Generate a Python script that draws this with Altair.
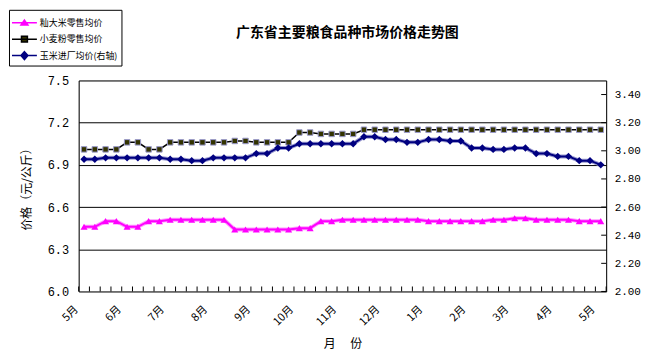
import json
import altair as alt
import pandas as pd

# ---------------- data ----------------
month_labels = ["5月", "6月", "7月", "8月", "9月", "10月", "11月", "12月",
                "1月", "2月", "3月", "4月", "5月"]

series_names = ["籼大米零售均价", "小麦粉零售均价", "玉米进厂均价(右轴)"]

rice = [6.46, 6.46, 6.50, 6.50, 6.46, 6.46, 6.50, 6.50,
        6.51, 6.51, 6.51, 6.51, 6.51, 6.51,
        6.44, 6.44, 6.44, 6.44, 6.44, 6.44,
        6.45, 6.45, 6.50, 6.50,
        6.51, 6.51, 6.51, 6.51, 6.51, 6.51, 6.51, 6.51,
        6.50, 6.50, 6.50, 6.50, 6.50, 6.50,
        6.51, 6.51, 6.52, 6.52,
        6.51, 6.51, 6.51, 6.51,
        6.50, 6.50, 6.50]

wheat = [7.01, 7.01, 7.01, 7.01, 7.06, 7.06, 7.01, 7.01,
         7.06, 7.06, 7.06, 7.06, 7.06, 7.06,
         7.07, 7.07, 7.06, 7.06, 7.06, 7.06,
         7.13, 7.13, 7.12, 7.12, 7.12, 7.12] + [7.15] * 23

corn = [2.94, 2.94, 2.95, 2.95, 2.95, 2.95, 2.95, 2.95,
        2.94, 2.94, 2.93, 2.93, 2.95, 2.95, 2.95, 2.95,
        2.98, 2.98, 3.02, 3.02,
        3.05, 3.05, 3.05, 3.05, 3.05, 3.05,
        3.10, 3.10, 3.08, 3.08, 3.06, 3.06, 3.08, 3.08,
        3.07, 3.07, 3.02, 3.02, 3.01, 3.01, 3.02, 3.02,
        2.98, 2.98, 2.96, 2.96, 2.93, 2.93, 2.90]

left_ticks = [6.0, 6.3, 6.6, 6.9, 7.2, 7.5]
right_ticks = [2.0, 2.2, 2.4, 2.6, 2.8, 3.0, 3.2, 3.4]

n = len(rice)
df = pd.DataFrame({"idx": list(range(n)), "rice": rice, "wheat": wheat, "corn": corn})
bounds_df = pd.DataFrame({"b": list(range(n + 1))})
rticks_df = pd.DataFrame({"v": right_ticks})
legend_df = pd.DataFrame({"series": series_names})

W, H = 530, 212
FONT = "Noto Sans CJK SC"

xscale = alt.Scale(domain=[0, n], nice=False, zero=False)
label_vals = [i + 0.5 for i in range(0, n, 4)]
xaxis = alt.Axis(
    values=label_vals, ticks=False, grid=False, domain=False,
    labelExpr=json.dumps(month_labels, ensure_ascii=False) + "[floor(datum.value / 4)]",
    labelAngle=315, labelAlign="right", labelBaseline="middle",
    labelOffset=-8, labelPadding=16, labelFont=FONT, labelFontSize=11,
    labelColor="black", title="月　 份", titleFont=FONT, titleFontSize=12,
    titleFontWeight="normal", titleColor="black", titlePadding=11,
)
X = alt.X("pos:Q", scale=xscale, axis=xaxis)

lscale = alt.Scale(domain=[6.0, 7.5], nice=False, zero=False)
laxis = alt.Axis(
    values=left_ticks, format=".1f", orient="left", ticks=False,
    grid=True, gridColor="black", gridWidth=1, gridOpacity=1,
    domain=True, domainColor="black",
    labelFont="Liberation Mono", labelFontSize=12, labelColor="black", labelPadding=10,
    title="价格（元/公斤）", titleFont=FONT, titleFontSize=12,
    titleFontWeight="normal", titleColor="black", titlePadding=14,
)

rscale = alt.Scale(domain=[2.0, 3.5], nice=False, zero=False)
raxis = alt.Axis(
    values=right_ticks, format=".2f", orient="right", ticks=False, grid=False,
    domain=True, domainColor="black",
    labelFont="Liberation Mono", labelFontSize=11, labelColor="black", labelPadding=8,
    title=None,
)

base = alt.Chart(df).transform_calculate(pos="datum.idx + 0.5")

def series_layers(field, yscale, yaxis, halo, core, core_w, shape, fill, stroke, size, halo_w=4):
    Y = alt.Y(f"{field}:Q", scale=yscale, axis=yaxis)
    layers = []
    if halo:
        layers.append(base.mark_line(color=halo, strokeWidth=halo_w).encode(x=X, y=Y))
    layers.append(base.mark_line(color=core, strokeWidth=core_w).encode(x=X, y=Y))
    layers.append(base.mark_point(shape=shape, filled=True, fill=fill, stroke=stroke,
                                  strokeWidth=1 if stroke else 0, size=size, opacity=1)
                  .encode(x=X, y=Y))
    return layers

rice_l = series_layers("rice", lscale, laxis, "#ff99ff", "#ff00ff", 2,
                       "triangle-up", "#ff00ff", None, 50)
wheat_l = series_layers("wheat", lscale, laxis, None, "#000000", 1.5,
                        "square", "#333300", "#9999cc", 30)
corn_l = series_layers("corn", rscale, raxis, "#9a9ad0", "#000080", 2,
                       "diamond", "#000080", None, 55)

xticks = alt.Chart(bounds_df).mark_rule(color="black", strokeWidth=1).encode(
    x=alt.X("b:Q", scale=xscale, axis=xaxis),
    y=alt.value(H - 5), y2=alt.value(H),
)
rticks = alt.Chart(rticks_df).mark_rule(color="black", strokeWidth=1).encode(
    y=alt.Y("v:Q", scale=rscale, axis=raxis),
    x=alt.value(W - 5), x2=alt.value(W),
)

paths = [
    "M-1.11,0H1.67M0.28,-0.3L0.67,0.26L-0.11,0.26Z",
    "M-1.11,0H1.67M-0.05,-0.33H0.61V0.33H-0.05Z",
    "M-1.11,0H1.67M0.28,-0.44L0.67,0L0.28,0.44L-0.11,0Z",
]
leg = alt.Legend(
    title=None, orient="none", legendX=-70, legendY=-71, direction="vertical",
    strokeColor="black", fillColor="white", padding=3, cornerRadius=0,
    labelFont=FONT, labelFontSize=9, labelColor="black", labelOffset=8,
    symbolSize=324, symbolStrokeWidth=1.5, rowPadding=0.5,
)
legend_layer = alt.Chart(legend_df).mark_point(
    filled=True, opacity=1, clip=True, size=324, strokeWidth=1.5
).encode(
    x=alt.value(-200), y=alt.value(-200),
    fill=alt.Fill("series:N", scale=alt.Scale(domain=series_names,
                  range=["#ff00ff", "#333300", "#000080"]), legend=leg),
    stroke=alt.Stroke("series:N", scale=alt.Scale(domain=series_names,
                      range=["#ff00ff", "#000000", "#000080"]), legend=leg),
    shape=alt.Shape("series:N", scale=alt.Scale(domain=series_names, range=paths), legend=leg),
)

left = alt.layer(*rice_l, *wheat_l, xticks, legend_layer)
right = alt.layer(*corn_l, rticks)

chart = alt.layer(left, right).resolve_scale(y="independent").properties(
    width=W, height=H,
    padding={"left": 0, "top": 0, "right": 0, "bottom": 0},
    title=alt.TitleParams(
        "广东省主要粮食品种市场价格走势图", font=FONT, fontSize=14, fontWeight="bold",
        color="black", anchor="middle", frame="group", offset=0, dx=5, dy=31,
    ),
).configure_view(stroke="black", strokeWidth=1).configure(background="white")

chart.save("out.html", embed_options={"renderer": "svg", "actions": False})
